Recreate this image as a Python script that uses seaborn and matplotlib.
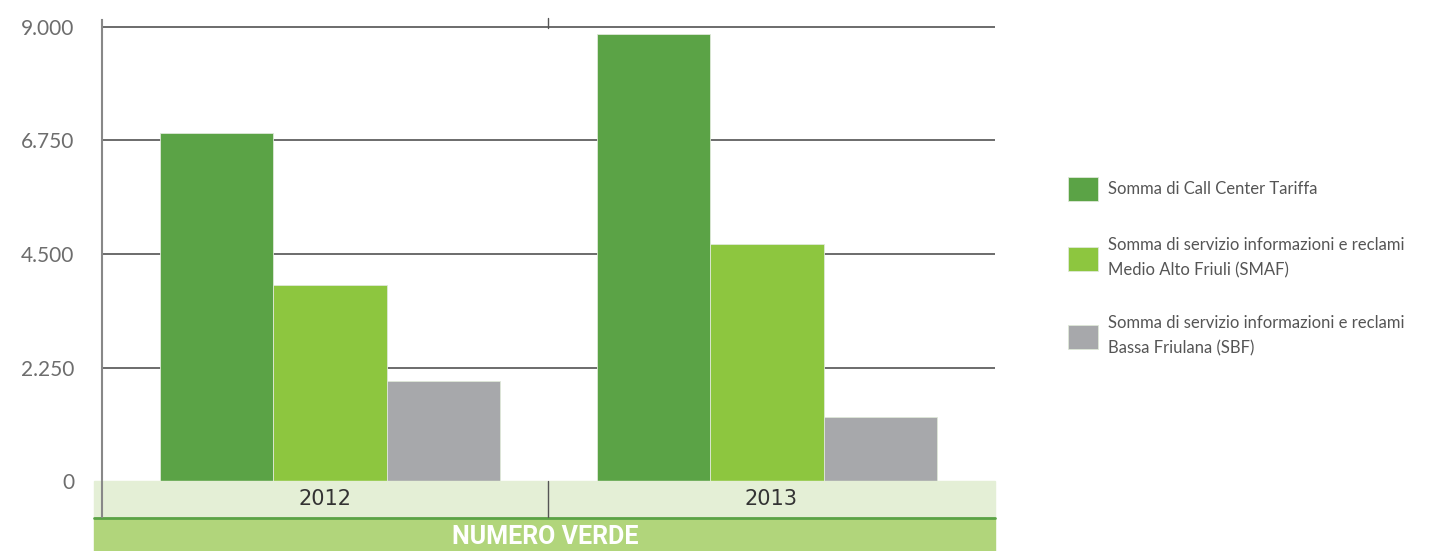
import pandas as pd
import matplotlib.pyplot as plt
import seaborn as sns
from matplotlib.patches import Rectangle

# values
years = ['2012', '2013']
call_center = [6900, 8860]
smaf = [3890, 4700]
sbf = [1980, 1270]
series = ['Somma di Call Center Tariffa',
          'Somma di servizio informazioni e reclami\nMedio Alto Friuli (SMAF)',
          'Somma di servizio informazioni e reclami\nBassa Friulana (SBF)']
colors = ['#5ba346', '#8dc63f', '#a7a8ab']
yticks = [0, 2250, 4500, 6750, 9000]
ytick_labels = ['0', '2.250', '4.500', '6.750', '9.000']

df = pd.DataFrame({
    'anno': years * 3,
    'serie': [series[0]] * 2 + [series[1]] * 2 + [series[2]] * 2,
    'valore': call_center + smaf + sbf,
})

sns.set_style('white')
plt.rcParams['font.family'] = ['Lato', 'DejaVu Sans']

W, H = 1448, 551
fig = plt.figure(figsize=(W / 100, H / 100), dpi=100)
ax = fig.add_axes([102 / W, 1 - 481 / H, (995 - 102) / W, (481 - 20) / H])

sns.barplot(data=df, x='anno', y='valore', hue='serie', palette=colors,
            width=0.78, gap=0, saturation=1, ax=ax, zorder=3,
            edgecolor='#dfe8d8', linewidth=0.6)

ax.set_ylim(0, 9000 * 461 / 454)
ax.set_xlim(-0.522, 1.522)
ax.set_yticks(yticks)
ax.set_yticklabels(ytick_labels, color='#6d6d6d', fontsize=15)
ax.tick_params(axis='y', length=9, width=1, color='#555555', pad=11)
ax.tick_params(axis='x', length=0, labelbottom=False)
ax.set_xlabel('')
ax.set_ylabel('')
for y in yticks[1:]:
    ax.axhline(y, color='#444444', lw=1.1, zorder=1)
for s in ['top', 'right', 'bottom']:
    ax.spines[s].set_visible(False)
ax.spines['left'].set_color('#888888')
ax.spines['left'].set_linewidth(1.5)

# category band below the plot
fig.patches.append(Rectangle((94 / W, 1 - 517 / H), (995 - 94) / W, 36 / H,
                             transform=fig.transFigure, color='#e4efd6', zorder=0))
fig.patches.append(Rectangle((94 / W, 0), (995 - 94) / W, 1 - 518 / H,
                             transform=fig.transFigure, color='#b1d57b', zorder=0))
fig.add_artist(plt.Line2D([94 / W, 995 / W], [1 - 518 / H] * 2, color='#5ba346', lw=2))
fig.add_artist(plt.Line2D([102 / W] * 2, [1 - 517 / H, 1 - 481 / H], color='#888888', lw=1.5))
fig.add_artist(plt.Line2D([548 / W] * 2, [1 - 517 / H, 1 - 481 / H], color='#555555', lw=1))
fig.add_artist(plt.Line2D([548 / W] * 2, [1 - 28 / H, 1 - 18 / H], color='#555555', lw=1))
for i, yr in enumerate(years):
    xc = (325 + i * 446) / W
    fig.text(xc, 1 - 499 / H, yr, ha='center', va='center', fontsize=15,
             color='#333333', family='DejaVu Sans')
fig.text(545 / W, 1 - 537 / H, 'NUMERO VERDE', ha='center', va='center',
         fontsize=18, color='white', fontweight='bold', family='Roboto')

handles, labels = ax.get_legend_handles_labels()
leg = ax.legend(handles, labels, loc='upper left', bbox_to_anchor=(1053 / W, 1 - 162 / H),
                bbox_transform=fig.transFigure, frameon=False,
                handlelength=1.8, handleheight=1.8, handletextpad=0.6,
                labelspacing=2.2, labelcolor='#555555', prop={'size': 12})
for t in leg.get_texts():
    t.set_linespacing(1.7)

plt.savefig('out.png', dpi=100)
